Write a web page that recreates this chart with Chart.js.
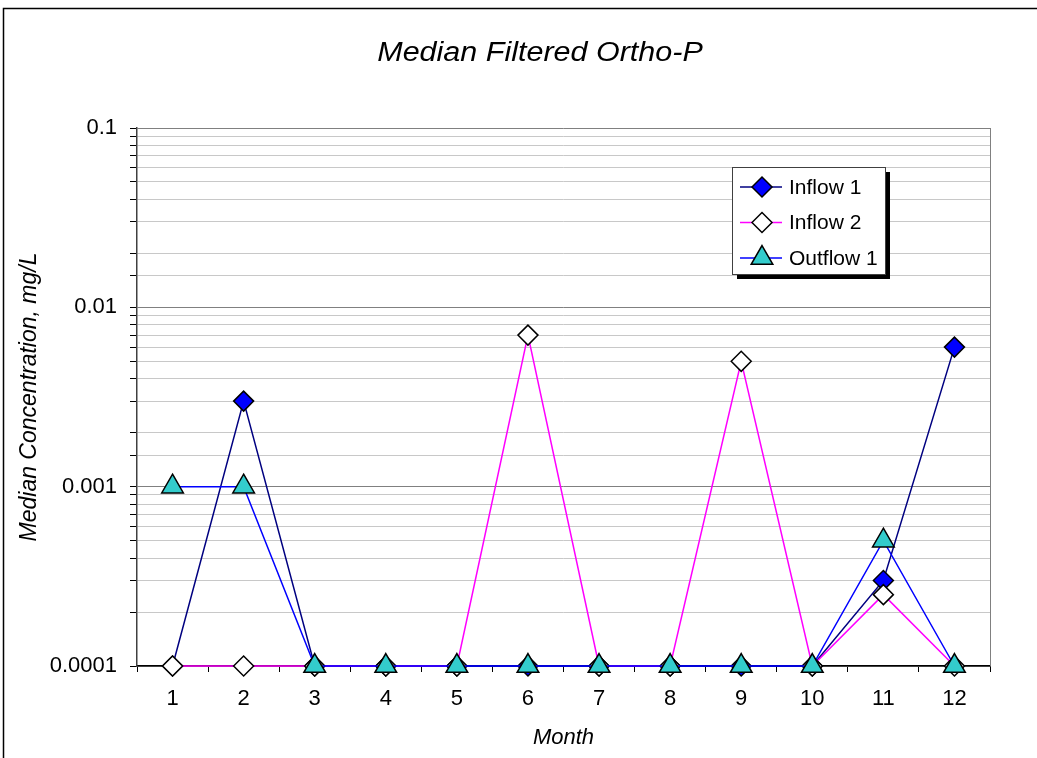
<!DOCTYPE html>
<html>
<head>
<meta charset="utf-8">
<script src="https://cdn.jsdelivr.net/npm/chart.js@4.4.1/dist/chart.umd.min.js"></script>
<style>
  html, body { margin: 0; padding: 0; background: #fff; }
</style>
</head>
<body>
<canvas id="chart" width="1037" height="758"></canvas>
<script>
// Chart data
const months = ['1', '2', '3', '4', '5', '6', '7', '8', '9', '10', '11', '12'];
const inflow1 = [0.0001, 0.003, 0.0001, 0.0001, 0.0001, 0.0001, 0.0001, 0.0001, 0.0001, 0.0001, 0.0003, 0.006];
const inflow2 = [0.0001, 0.0001, 0.0001, 0.0001, 0.0001, 0.007, 0.0001, 0.0001, 0.005, 0.0001, 0.00025, 0.0001];
const outflow1 = [0.001, 0.001, 0.0001, 0.0001, 0.0001, 0.0001, 0.0001, 0.0001, 0.0001, 0.0001, 0.0005, 0.0001];
const yMin = 0.0001;
const yMax = 0.1;

const FONT = '"Liberation Sans", Arial, sans-serif';

const isDecade = (v) => Math.abs(Math.log10(v) - Math.round(Math.log10(v))) < 1e-6;

// Frame, title, plot border and legend box
const decorPlugin = {
    id: 'decor',
    beforeDraw(chart) {
        const ctx = chart.ctx;
        ctx.save();
        ctx.fillStyle = '#fff';
        ctx.fillRect(0, 0, chart.width, chart.height);
        ctx.strokeStyle = '#000';
        ctx.lineWidth = 1.5;
        ctx.strokeRect(3.5, 8.5, chart.width + 20, chart.height + 20);
        ctx.fillStyle = '#000';
        ctx.font = 'italic 27px ' + FONT;
        ctx.textAlign = 'center';
        ctx.textBaseline = 'alphabetic';
        ctx.translate(540, 61);
        ctx.scale(1.13, 1);
        ctx.fillText('Median Filtered Ortho-P', 0, 0);
        ctx.restore();
    },
    afterDatasetsDraw(chart) {
        const ctx = chart.ctx;
        const a = chart.chartArea;
        ctx.save();
        ctx.strokeStyle = '#808080';
        ctx.lineWidth = 1;
        ctx.beginPath();
        ctx.moveTo(a.right + 0.5, a.top);
        ctx.lineTo(a.right + 0.5, a.bottom);
        ctx.stroke();

        // legend
        const bx = 732, by = 167, bw = 153, bh = 107;
        ctx.fillStyle = '#000';
        ctx.fillRect(bx + 5, by + 5, bw, bh);
        ctx.fillStyle = '#fff';
        ctx.fillRect(bx, by, bw, bh);
        ctx.strokeStyle = '#404040';
        ctx.strokeRect(bx + 0.5, by + 0.5, bw, bh);
        ctx.font = '21px ' + FONT;
        ctx.textAlign = 'left';
        ctx.textBaseline = 'middle';
        chart.data.datasets.forEach((ds, i) => {
            const y = 187 + i * 35.5;
            ctx.strokeStyle = ds.borderColor;
            ctx.lineWidth = 1.5;
            ctx.beginPath();
            ctx.moveTo(740, y);
            ctx.lineTo(782, y);
            ctx.stroke();
            ctx.fillStyle = ds.pointBackgroundColor;
            ctx.strokeStyle = '#000';
            ctx.lineWidth = 1.5;
            Chart.helpers.drawPoint(ctx, {
                pointStyle: ds.pointStyle,
                radius: ds.pointRadius,
                borderWidth: 1.5
            }, 762, y);
            ctx.fillStyle = '#000';
            ctx.fillText(ds.label, 789, y + 1);
        });
        ctx.restore();
    }
};

new Chart(document.getElementById('chart'), {
    type: 'line',
    data: {
        labels: months,
        datasets: [
            {
                label: 'Inflow 1',
                data: inflow1,
                borderColor: '#000080',
                borderWidth: 1.5,
                pointStyle: 'rectRot',
                pointRadius: 10,
                pointBackgroundColor: '#0000ff',
                pointBorderColor: '#000',
                pointBorderWidth: 1.5,
                tension: 0,
                clip: false,
                order: 3
            },
            {
                label: 'Inflow 2',
                data: inflow2,
                borderColor: '#ff00ff',
                borderWidth: 1.5,
                pointStyle: 'rectRot',
                pointRadius: 10,
                pointBackgroundColor: '#ffffff',
                pointBorderColor: '#000',
                pointBorderWidth: 1.5,
                tension: 0,
                clip: false,
                order: 2
            },
            {
                label: 'Outflow 1',
                data: outflow1,
                borderColor: '#0000ff',
                borderWidth: 1.5,
                pointStyle: 'triangle',
                pointRadius: 12.5,
                pointBackgroundColor: '#33cccc',
                pointBorderColor: '#000',
                pointBorderWidth: 1.5,
                tension: 0,
                clip: false,
                order: 1
            }
        ]
    },
    options: {
        responsive: false,
        animation: false,
        layout: {
            padding: { top: 128, right: 47, left: 0, bottom: 0 }
        },
        plugins: {
            legend: { display: false },
            title: { display: false },
            tooltip: { enabled: false }
        },
        scales: {
            x: {
                type: 'category',
                offset: true,
                afterFit: (s) => { s.height = 92; },
                grid: {
                    offset: true,
                    drawOnChartArea: false,
                    drawTicks: true,
                    tickLength: 6,
                    tickColor: '#000'
                },
                border: { color: '#000', width: 1.5 },
                ticks: {
                    color: '#000',
                    padding: 14,
                    maxRotation: 0,
                    font: { family: FONT, size: 22 }
                },
                title: {
                    display: true,
                    text: 'Month',
                    color: '#000',
                    padding: { top: 4, bottom: 7 },
                    font: { family: FONT, size: 22, style: 'italic' }
                }
            },
            y: {
                type: 'logarithmic',
                min: yMin,
                max: yMax,
                afterFit: (s) => { s.width = 137; },
                grid: {
                    color: (c) => (c.tick && isDecade(c.tick.value)) ? '#808080' : '#c8c8c8',
                    lineWidth: 1,
                    tickLength: 7,
                    tickColor: '#000'
                },
                border: { color: '#404040', width: 1.5 },
                ticks: {
                    color: '#000',
                    padding: 13,
                    autoSkip: false,
                    font: { family: FONT, size: 22 },
                    callback: (v) => isDecade(v) ? String(Number(v.toPrecision(3))) : ''
                },
                title: {
                    display: true,
                    text: 'Median Concentration, mg/L',
                    color: '#000',
                    padding: { top: 16, bottom: 0 },
                    font: { family: FONT, size: 23, style: 'italic' }
                }
            }
        }
    },
    plugins: [decorPlugin]
});
</script>
</body>
</html>
